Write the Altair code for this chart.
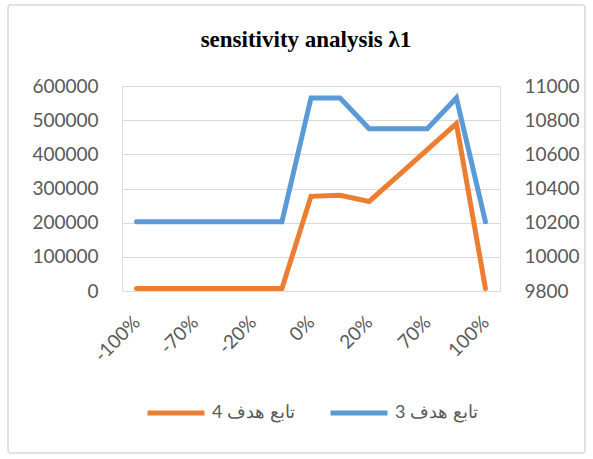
import altair as alt
import pandas as pd

# Sensitivity levels on the category axis
levels = ["-100%", "-90%", "-70%", "-50%", "-20%", "-10%", "0%",
          "10%", "20%", "50%", "70%", "90%", "100%"]
shown_levels = ["-100%", "-70%", "-20%", "0%", "20%", "70%", "100%"]

# Objective function 4 (left axis)
obj4 = [7000, 7000, 7000, 7000, 7000, 7000, 277000,
        280000, 262000, 338000, 414000, 490000, 7000]
# Objective function 3 (right axis)
obj3 = [10205, 10205, 10205, 10205, 10205, 10205, 10930,
        10930, 10750, 10750, 10750, 10930, 10205]

name4 = "تابع هدف 4"
name3 = "تابع هدف 3"

df = pd.DataFrame({
    "level": levels * 2,
    "series": [name4] * len(levels) + [name3] * len(levels),
    "value": obj4 + obj3,
})

W, H = 378, 205
FONT = "Lato"
GRAY = "#595959"
GRID = "#D9D9D9"

color = alt.Color(
    "series:N",
    scale=alt.Scale(domain=[name4, name3], range=["#ED7D31", "#5B9BD5"]),
    legend=alt.Legend(
        title=None, orient="none", direction="horizontal",
        legendX=23, legendY=296,
        symbolType="stroke", symbolSize=3249, symbolStrokeWidth=5,
        labelFontSize=18, labelFont=FONT, labelColor=GRAY,
        labelOffset=5, columnPadding=25,
    ),
)

x = alt.X(
    "level:O", sort=levels, title=None,
    scale=alt.Scale(padding=0.5),
    axis=alt.Axis(values=shown_levels, labelAngle=-45, labelAlign="right",
                  labelBaseline="middle", labelPadding=28,
                  labelFontSize=19, labelFont=FONT, labelColor=GRAY,
                  ticks=False, domainColor=GRID, domainWidth=1, grid=False),
)

line_style = dict(strokeWidth=5, strokeCap="round")

left = alt.Chart(df).transform_filter(
    alt.datum.series == name4
).mark_line(**line_style).encode(
    x=x,
    y=alt.Y("value:Q", title=None,
            scale=alt.Scale(domain=[0, 600000], nice=False, zero=True),
            axis=alt.Axis(values=[0, 100000, 200000, 300000, 400000, 500000, 600000],
                          format="d", orient="left", labelFontSize=19,
                          labelFont=FONT, labelColor=GRAY, labelPadding=24,
                          ticks=False, domain=False, grid=True,
                          gridColor=GRID, gridWidth=1)),
    color=color,
)

right = alt.Chart(df).transform_filter(
    alt.datum.series == name3
).mark_line(**line_style).encode(
    x=x,
    y=alt.Y("value:Q", title=None,
            scale=alt.Scale(domain=[9800, 11000], nice=False, zero=False),
            axis=alt.Axis(values=[9800, 10000, 10200, 10400, 10600, 10800, 11000],
                          format="d", orient="right", labelFontSize=19,
                          labelFont=FONT, labelColor=GRAY, labelPadding=24,
                          ticks=False, domain=False, grid=False)),
    color=color,
)

# Light frame around the whole chart area
frame = alt.Chart(pd.DataFrame({"f": [0]})).mark_rect(
    fill=None, stroke=GRID, strokeWidth=1.5, cornerRadius=3, clip=False
).encode(
    x=alt.value(-114), x2=alt.value(463),
    y=alt.value(-81), y2=alt.value(367),
)

chart = alt.layer(frame, left, right).resolve_scale(
    y="independent"
).properties(
    width=W, height=H,
    title=alt.TitleParams(
        "sensitivity analysis λ1", font="Liberation Serif", fontSize=23,
        fontWeight="bold", color="black", anchor="middle", offset=-48, dx=-5,
    ),
    autosize=alt.AutoSizeParams(type="none"),
    padding={"left": 122, "top": 86, "right": 93, "bottom": 168},
).configure_view(stroke=None).configure(background="white")

chart.save("out.html", embed_options={"renderer": "svg", "actions": False})
